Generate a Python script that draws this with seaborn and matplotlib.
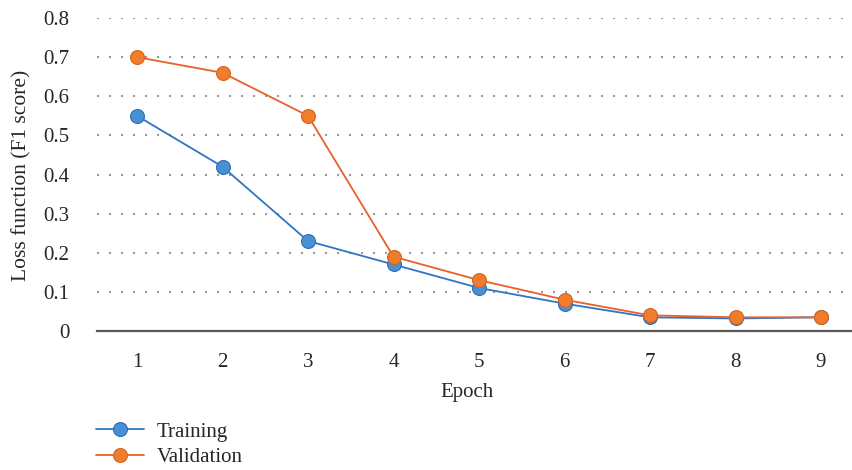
import matplotlib
matplotlib.use("Agg")
import matplotlib.pyplot as plt
import seaborn as sns
import pandas as pd

epochs = [1, 2, 3, 4, 5, 6, 7, 8, 9]
training = [0.55, 0.42, 0.23, 0.17, 0.11, 0.07, 0.035, 0.032, 0.035]
validation = [0.70, 0.66, 0.55, 0.19, 0.13, 0.08, 0.04, 0.035, 0.035]
y_ticks = [0, 0.1, 0.2, 0.3, 0.4, 0.5, 0.6, 0.7, 0.8]
y_tick_labels = ["0", "0.1", "0.2", "0.3", "0.4", "0.5", "0.6", "0.7", "0.8"]

sns.set_theme(style="white")
plt.rcParams["font.family"] = ["Liberation Serif", "DejaVu Serif"]

df = pd.DataFrame({
    "Epoch": epochs * 2,
    "Loss": training + validation,
    "Series": ["Training"] * len(epochs) + ["Validation"] * len(epochs),
})

FS = 15
TXT = "#262626"

fig = plt.figure(figsize=(8.52, 4.70), dpi=100)
ax = fig.add_axes([97 / 852, 139 / 470, 1 - 97 / 852, 313 / 470])

line_colors = {"Training": "#2e75c4", "Validation": "#e8602a"}
face_colors = {"Training": "#4a90d4", "Validation": "#f07c2c"}
edge_colors = {"Training": "#2e6eb0", "Validation": "#d4651e"}

for name in ["Training", "Validation"]:
    sub = df[df["Series"] == name]
    sns.lineplot(data=sub, x="Epoch", y="Loss", ax=ax, color=line_colors[name],
                 linewidth=1.3, marker="o", markersize=10,
                 markerfacecolor=face_colors[name], markeredgecolor=edge_colors[name],
                 markeredgewidth=0.8, label=name, legend=False)

ax.set_xlim(1 - 40 / 85.5, 9 + 31 / 85.5)
ax.set_ylim(0, 0.8)
ax.set_xticks(epochs)
ax.set_xticklabels([str(e) for e in epochs])
ax.set_yticks(y_ticks)
ax.set_yticklabels(y_tick_labels)

# dotted horizontal gridlines, none at zero
for v in y_ticks[1:]:
    ax.axhline(v, color="#9a9a9a", linewidth=1.5, linestyle=(0, (1.0, 4.76)), zorder=0)

for side in ["top", "right", "left"]:
    ax.spines[side].set_visible(False)
ax.spines["bottom"].set_color("#5a5a5a")
ax.spines["bottom"].set_linewidth(1.6)
ax.spines["bottom"].set_zorder(1)

ax.tick_params(axis="both", length=0, labelsize=FS, colors=TXT)
ax.tick_params(axis="x", pad=16)
ax.tick_params(axis="y", pad=20)

ax.set_xlabel("Epoch", fontsize=FS, color=TXT)
ax.set_ylabel("Loss function (F1 score)", fontsize=15.5, color=TXT)
ax.xaxis.set_label_coords((467 - 97) / (852 - 97), -(392 - 331) / 313)
ax.xaxis.label.set_va("center")
ax.yaxis.set_label_coords(-(97 - 22) / (852 - 97), (331 - 175) / 313)
ax.yaxis.label.set_va("center")

handles, labels = ax.get_legend_handles_labels()
fig.legend(handles, labels, loc="upper left", bbox_to_anchor=(96 / 852, 1 - 422 / 470),
           frameon=False, fontsize=FS, handlelength=2.3, handletextpad=0.6,
           labelspacing=0.3, labelcolor=TXT, borderpad=0, borderaxespad=0)

fig.savefig("out.png", dpi=100)
